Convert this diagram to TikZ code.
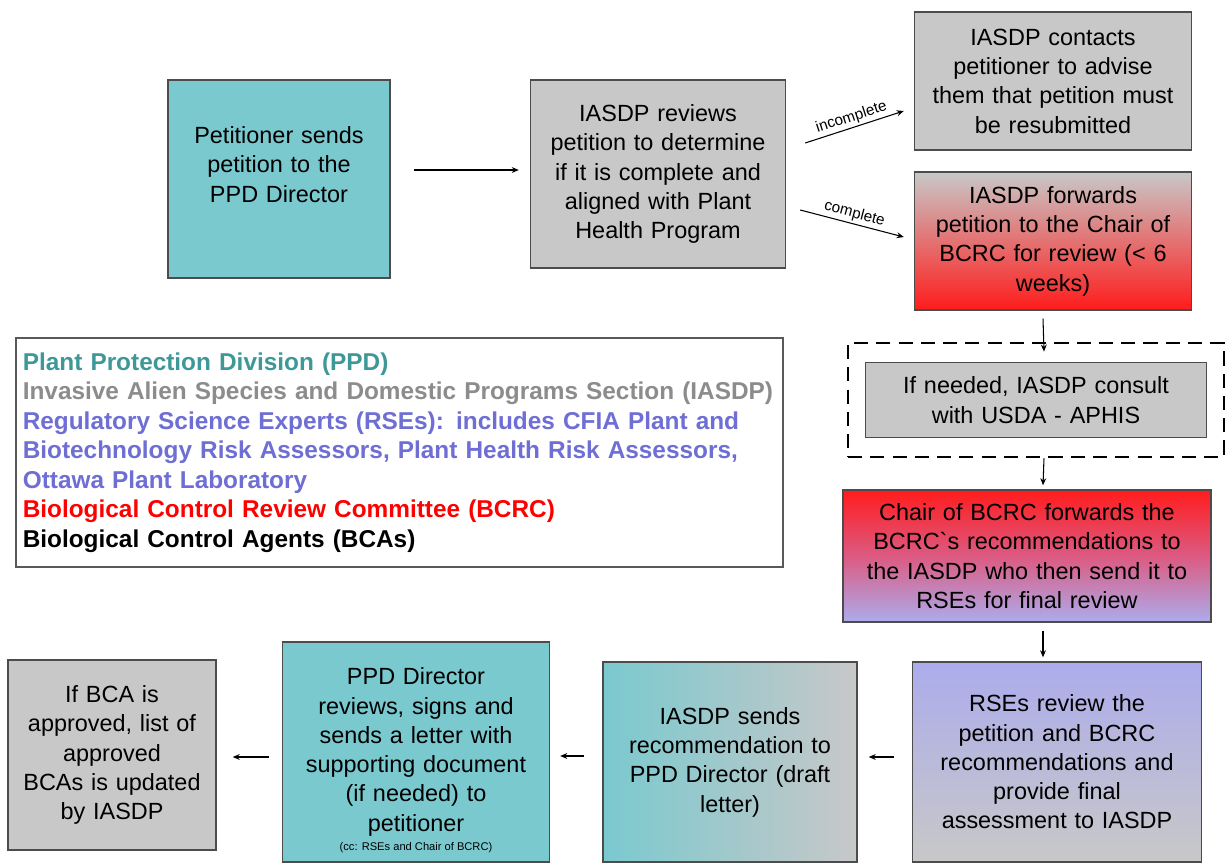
\documentclass[tikz,border=0pt]{standalone}
\usepackage{fontspec}
\setmainfont{Liberation Sans}
\usetikzlibrary{calc,fit,shadows,arrows.meta}
\definecolor{tealbox}{RGB}{122,201,207}
\definecolor{graybox}{RGB}{200,200,200}
\definecolor{redbox}{RGB}{255,28,28}
\definecolor{lavbox}{RGB}{172,172,236}
\definecolor{tealtxt}{RGB}{62,152,152}
\definecolor{graytxt}{RGB}{140,140,140}
\definecolor{bluetxt}{RGB}{110,110,212}
\begin{document}
\begin{tikzpicture}[x=0.03cm, y=-0.03cm, >={Stealth[length=6pt,width=5pt]},
    box/.style={rectangle, draw=black!70, line width=1.2pt, align=center,
        font=\fontsize{20}{25}\selectfont, inner sep=2pt,
        drop shadow={shadow xshift=0.8pt, shadow yshift=-0.8pt, opacity=0.5}},
    flow/.style={->, line width=0.9pt},
    lbl/.style={font=\fontsize{13}{15}\selectfont, sloped, above, inner sep=2pt}]
    \useasboundingbox (0,0) rectangle (1225,865);
    % top row
    \node[box, fill=tealbox, minimum width=6.66cm, minimum height=5.94cm, text width=6.4cm] (pet) at (279,179)
        {Petitioner sends\\ petition to the\\ PPD Director\\ \mbox{}};
    \node[box, fill=graybox, minimum width=7.65cm, minimum height=5.64cm, text width=7.5cm] (rev) at (658,174)
        {IASDP reviews\\ petition to determine\\ if it is complete and\\ aligned with Plant\\ Health Program};
    \node[box, fill=graybox, minimum width=8.31cm, minimum height=4.14cm, text width=8.1cm] (contact) at (1053,81)
        {IASDP contacts\\ petitioner to advise\\ them that petition must\\ be resubmitted};
    \node[box, top color=graybox, bottom color=redbox, minimum width=8.31cm, minimum height=4.14cm, text width=8.1cm] (fwd) at (1053,241)
        {IASDP forwards\\ petition to the Chair of\\ BCRC for review (< 6\\ weeks)};
    % right column
    \node[box, fill=graybox, minimum width=10.23cm, minimum height=2.25cm, text width=10cm] (consult) at (1036,400)
        {If needed, IASDP consult\\ with USDA - APHIS};
    \node[draw, dashed, line width=2pt, dash pattern=on 12pt off 7pt, fit=(consult), inner xsep=0.5cm, inner ysep=0.57cm] (dash) {};
    \node[box, top color=redbox, bottom color=lavbox, middle color={rgb,255:red,220;green,90;blue,130}, minimum width=10.95cm, minimum height=3.96cm, text width=10.9cm] (chair) at (1027,556)
        {Chair of BCRC forwards the\\ BCRC\textasciigrave s recommendations to\\ the IASDP who then send it to\\ RSEs for final review};
    % bottom row
    \node[box, top color=lavbox, bottom color=graybox, minimum width=8.67cm, minimum height=6.0cm, text width=8.5cm] (rse) at (1057,762)
        {RSEs review the\\ petition and BCRC\\ recommendations and\\ provide final\\ assessment to IASDP};
    \node[box, left color=tealbox, right color=graybox, minimum width=7.62cm, minimum height=6.0cm, text width=7.4cm] (send) at (730,762)
        {IASDP sends\\ recommendation to\\ PPD Director (draft\\ letter)};
    \node[box, fill=tealbox, minimum width=8.01cm, minimum height=6.6cm, text width=7.8cm] (ppd) at (416,752)
        {PPD Director\\ reviews, signs and\\ sends a letter with\\ supporting document\\ (if needed) to\\ petitioner};
    \node[font=\fontsize{9.5}{11}\selectfont, anchor=south, inner sep=0pt] (ppdcc) at ($(ppd.south)+(0,-10)$)
        {(cc: RSEs and Chair of BCRC)};
    \node[box, fill=graybox, minimum width=6.24cm, minimum height=5.7cm, text width=6.1cm] (bca) at (112,755)
        {If BCA is\\ approved, list of\\ approved\\ BCAs is updated\\ by IASDP};
    % legend
    \node[rectangle, draw=black!65, line width=1.2pt, fill=white, minimum width=23.01cm, minimum height=6.87cm,
        text width=22.6cm, align=left, font=\bfseries\fontsize{20.8}{25.2}\selectfont,
        drop shadow={shadow xshift=0.8pt, shadow yshift=-0.8pt, opacity=0.5}] (legend) at (399.5,452.5)
        {\color{tealtxt}Plant Protection Division (PPD)\\
         \color{graytxt}Invasive Alien Species and Domestic Programs Section (IASDP)\\
         \color{bluetxt}Regulatory Science Experts (RSEs): includes CFIA Plant and\\
         Biotechnology Risk Assessors, Plant Health Risk Assessors,\\
         Ottawa Plant Laboratory\\
         \color{red}Biological Control Review Committee (BCRC)\\
         \color{black}Biological Control Agents (BCAs)};
    % connectors
    \draw[flow] ($(pet.east)+(23,-9)$) -- ($(rev.west)+(-11,-4)$);
    \draw[flow] ($(rev.east)+(19,-31)$) -- node[lbl] {incomplete} ($(contact.west)+(-10,30)$);
    \draw[flow] ($(rev.east)+(14,36)$) -- node[lbl] {complete} ($(fwd.west)+(-10,-4)$);
    \draw[flow] ($(fwd.south)+(-10,8)$) -- ($(dash.north)+(8,10)$);
    \draw[flow] ($(dash.south)+(8,0)$) -- ($(chair.north)+(16,-4)$);
    \draw[flow] ($(chair.south)+(16,8)$) -- ($(rse.north)+(-14,-4)$);
    \draw[flow] ($(rse.west)+(-18,-5)$) -- ($(send.east)+(11,-5)$);
    \draw[flow] ($(send.west)+(-18,-6)$) -- ($(ppd.east)+(10,4)$);
    \draw[flow] ($(ppd.west)+(-13,5)$) -- ($(bca.east)+(16,2)$);
\end{tikzpicture}
\end{document}
